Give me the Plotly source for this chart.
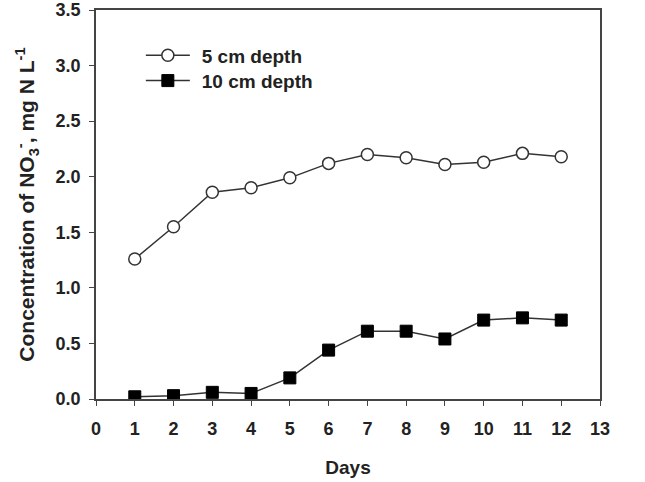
import plotly.graph_objects as go

days = [1, 2, 3, 4, 5, 6, 7, 8, 9, 10, 11, 12]
depth_5cm = [1.26, 1.55, 1.86, 1.90, 1.99, 2.12, 2.20, 2.17, 2.11, 2.13, 2.21, 2.18]
depth_10cm = [0.02, 0.03, 0.06, 0.05, 0.19, 0.44, 0.61, 0.61, 0.54, 0.71, 0.73, 0.71]
x_ticks = list(range(0, 14))
y_ticks = [0.0, 0.5, 1.0, 1.5, 2.0, 2.5, 3.0, 3.5]

line_col = "#333333"
fig = go.Figure()
fig.add_trace(go.Scatter(
    x=days, y=depth_5cm, name="\u00a0\u200a<b>5 cm depth</b>", mode="lines+markers", legend="legend",
    line=dict(color=line_col, width=1.5),
    marker=dict(symbol="circle", size=12, color="white", line=dict(color=line_col, width=1.5)),
))
fig.add_trace(go.Scatter(
    x=days, y=depth_10cm, name="\u00a0\u200a<b>10 cm depth</b>", mode="lines+markers", legend="legend2",
    line=dict(color=line_col, width=1.5),
    marker=dict(symbol="square", size=12, color="black", line=dict(color="black", width=1)),
))

font_fam = "Liberation Sans, Arial, sans-serif"
axis_common = dict(
    showline=True, linecolor="#444444", linewidth=1.5, mirror=True,
    ticks="outside", ticklen=5, tickcolor="#444444", tickwidth=1.2,
    showgrid=False, zeroline=False, ticklabeloverflow="allow", automargin=False,
    tickfont=dict(family=font_fam, size=18, color="#222222"),
)
legend_common = dict(
    x=0.089, xanchor="left", yanchor="top",
    bgcolor="rgba(0,0,0,0)", itemwidth=44,
    font=dict(family=font_fam, size=19, color="#222222"),
)
fig.update_layout(
    width=645, height=482,
    margin=dict(l=96, r=45, t=10, b=83),
    paper_bgcolor="white", plot_bgcolor="white",
    font=dict(family=font_fam, color="#222222"),
    showlegend=True,
    legend=dict(y=0.932, **legend_common),
    legend2=dict(y=0.867, **legend_common),
    xaxis=dict(
        range=[0, 13], tickvals=x_ticks, ticktext=[f"<b>{v}</b>" for v in x_ticks],
        ticklabelstandoff=8,
        title=dict(text="<b>Days</b>", font=dict(family=font_fam, size=19, color="#222222"), standoff=22),
        **axis_common,
    ),
    yaxis=dict(
        range=[0, 3.5], tickvals=y_ticks, ticktext=[f"<b>{v:.1f}</b>" for v in y_ticks],
        ticklabelstandoff=5,
        title=dict(
            text="<b>Concentration of NO<sub>3</sub><sup>-</sup>, mg N L<sup>-1</sup></b>",
            font=dict(family=font_fam, size=21, color="#222222"), standoff=15,
        ),
        **axis_common,
    ),
)
fig.write_html("out.html")
